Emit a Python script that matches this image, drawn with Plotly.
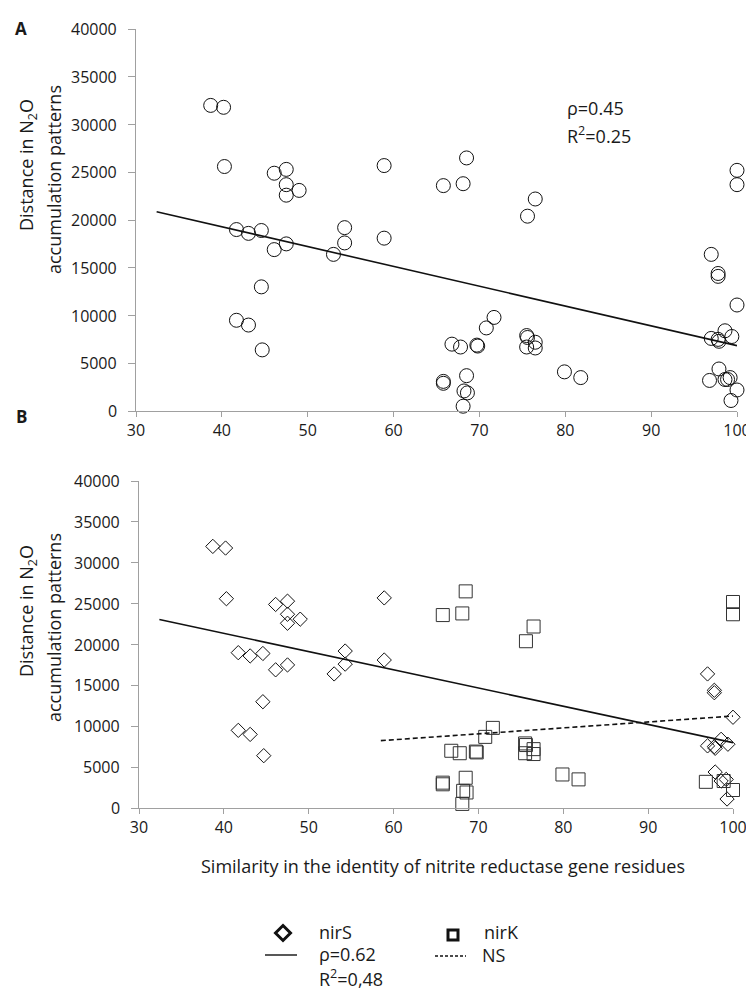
import plotly.graph_objects as go

# ---------------- data ----------------
nirS_x = [38.7, 40.2, 40.3, 46.1, 47.5, 47.5, 47.5, 49.0, 41.7, 43.1, 44.6, 46.1,
          47.5, 53.0, 54.3, 54.3, 58.9, 58.9, 44.6, 41.7, 43.1, 44.7,
          97.0, 97.8, 97.8, 100.0, 97.0, 97.8, 97.9, 98.6, 99.4, 97.9, 98.6, 99.2, 99.3]
nirS_y = [32000, 31800, 25600, 24900, 25300, 23700, 22600, 23100, 19000, 18600, 18900, 16900,
          17500, 16400, 19200, 17600, 25700, 18100, 13000, 9500, 9000, 6400,
          16400, 14400, 14100, 11100, 7600, 7500, 7300, 8400, 7800, 4400, 3300, 3500, 1100]

nirK_x = [65.8, 68.1, 68.5, 76.5, 75.6, 66.8, 67.8, 69.7, 69.8, 70.8, 71.7, 75.5,
          75.6, 76.5, 75.5, 76.5, 79.9, 81.8, 65.8, 65.8, 68.5, 68.2, 68.6, 68.1,
          100.0, 100.0, 96.8, 98.9, 100.0]
nirK_y = [23600, 23800, 26500, 22200, 20400, 7000, 6700, 6900, 6800, 8700, 9800, 7900,
          7700, 7200, 6700, 6600, 4100, 3500, 3100, 2900, 3700, 2100, 1900, 500,
          25200, 23700, 3200, 3300, 2200]

# trend lines (end points)
trendA_x = [32.4, 100]
trendA_y = [20870, 6840]
trendS_x = [32.4, 100]
trendS_y = [23050, 8000]
trendK_x = [58.5, 100]
trendK_y = [8240, 11250]

x_ticks = [30, 40, 50, 60, 70, 80, 90, 100]
y_ticks = [0, 5000, 10000, 15000, 20000, 25000, 30000, 35000, 40000]

W, H = 754, 989
FONT = "Open Sans"
TXT = "#1a1a1a"


def fx(p):
    return p / W


def fy(p):
    return 1 - p / H


fig = go.Figure()

# Panel A: all points as open circles
fig.add_trace(go.Scatter(
    x=nirS_x + nirK_x, y=nirS_y + nirK_y, mode="markers",
    marker=dict(symbol="circle", size=14, color="rgba(0,0,0,0)",
                line=dict(color="#111", width=1)),
    cliponaxis=False, showlegend=False, xaxis="x", yaxis="y"))
fig.add_trace(go.Scatter(
    x=trendA_x, y=trendA_y, mode="lines", line=dict(color="#111", width=1.6),
    showlegend=False, xaxis="x", yaxis="y"))

# Panel B
fig.add_trace(go.Scatter(
    x=nirS_x, y=nirS_y, mode="markers",
    marker=dict(symbol="diamond", size=11, color="rgba(0,0,0,0)",
                line=dict(color="#111", width=1)),
    cliponaxis=False, showlegend=False, xaxis="x2", yaxis="y2"))
fig.add_trace(go.Scatter(
    x=nirK_x, y=nirK_y, mode="markers",
    marker=dict(symbol="square", size=13, color="rgba(0,0,0,0)",
                line=dict(color="#333", width=1)),
    cliponaxis=False, showlegend=False, xaxis="x2", yaxis="y2"))
fig.add_trace(go.Scatter(
    x=trendS_x, y=trendS_y, mode="lines", line=dict(color="#111", width=1.6),
    showlegend=False, xaxis="x2", yaxis="y2"))
fig.add_trace(go.Scatter(
    x=trendK_x, y=trendK_y, mode="lines",
    line=dict(color="#111", width=1.6, dash="5px,3px"),
    showlegend=False, xaxis="x2", yaxis="y2"))

axis_common = dict(showline=True, linecolor="#a0a0a0", linewidth=1.4,
                   ticks="outside", tickcolor="#a0a0a0", tickwidth=1.2,
                   showgrid=False, zeroline=False, automargin=False,
                   tickfont=dict(family=FONT, size=16, color=TXT))

xa = dict(axis_common, range=[30, 100], tickvals=x_ticks, ticklen=5,
          ticklabelstandoff=0)
ya = dict(axis_common, range=[0, 40000], tickvals=y_ticks, ticklen=7,
          showticklabels=False)

fig.update_layout(
    width=W, height=H,
    margin=dict(l=0, r=0, t=0, b=0, autoexpand=False),
    paper_bgcolor="white", plot_bgcolor="white",
    xaxis=dict(xa, domain=[fx(128), fx(729)], anchor="y"),
    yaxis=dict(ya, domain=[fy(403), fy(21)], anchor="x"),
    xaxis2=dict(xa, domain=[fx(131), fx(725)], anchor="y2"),
    yaxis2=dict(ya, domain=[fy(800), fy(473)], anchor="x2"),
)

ann = []


def text(x, y, s, size=18, xanchor="left", angle=0, bold=False):
    ann.append(dict(x=fx(x), y=fy(y), xref="paper", yref="paper", text=s,
                    showarrow=False, xanchor=xanchor, yanchor="middle",
                    textangle=angle,
                    font=dict(family=FONT, size=size, color=TXT,
                              weight="bold" if bold else "normal")))


# y tick labels, placed on the axis scale
for yref, xr in [("y", 111), ("y2", 114)]:
    for v in y_ticks:
        ann.append(dict(x=fx(xr), y=v, xref="paper", yref=yref, text=str(v),
                        showarrow=False, xanchor="right", yanchor="middle",
                        font=dict(family=FONT, size=16, color=TXT)))

# panel letters
text(13, 20, "A", size=17, xanchor="center", bold=True)
text(13, 408, "B", size=17, xanchor="center", bold=True)

# y titles
for l1, l2 in [(157, 172), (603, 620)]:
    text(19, l1, "Distance in N<sub>2</sub>O", size=18, xanchor="center", angle=-90)
    text(46, l2, "accumulation patterns", size=18, xanchor="center", angle=-90)

# stats panel A
text(557, 100, "\u03c1=0.45", size=18)
text(557, 127, "R<sup>2</sup>=0.25", size=18)

# x title
text(435, 858, "Similarity in the identity of nitrite reductase gene residues",
     size=18, xanchor="center")

# legend texts
text(309, 924, "nirS", size=18)
text(309, 946, "\u03c1=0.62", size=18)
text(309, 970, "R<sup>2</sup>=0,48", size=18)
text(474, 924, "nirK", size=18)
text(472, 947, "NS", size=18)

shapes = []
# legend diamond
cx, cy, r = 275, 925, 7.5
shapes.append(dict(type="path", xref="paper", yref="paper",
                   path=f"M {fx(cx)},{fy(cy - r)} L {fx(cx + r)},{fy(cy)} "
                        f"L {fx(cx)},{fy(cy + r)} L {fx(cx - r)},{fy(cy)} Z",
                   line=dict(color="#111", width=3)))
# legend square
sx, sy, h = 445, 927, 5
shapes.append(dict(type="rect", xref="paper", yref="paper",
                   x0=fx(sx - h), x1=fx(sx + h), y0=fy(sy + h), y1=fy(sy - h),
                   line=dict(color="#111", width=3)))
# legend lines
shapes.append(dict(type="line", xref="paper", yref="paper",
                   x0=fx(257), x1=fx(289), y0=fy(947), y1=fy(947),
                   line=dict(color="#111", width=1.4)))
shapes.append(dict(type="line", xref="paper", yref="paper",
                   x0=fx(427), x1=fx(458), y0=fy(948), y1=fy(948),
                   line=dict(color="#111", width=1.4, dash="3px,2px")))

fig.update_layout(annotations=ann, shapes=shapes)
fig.write_html("out.html")
